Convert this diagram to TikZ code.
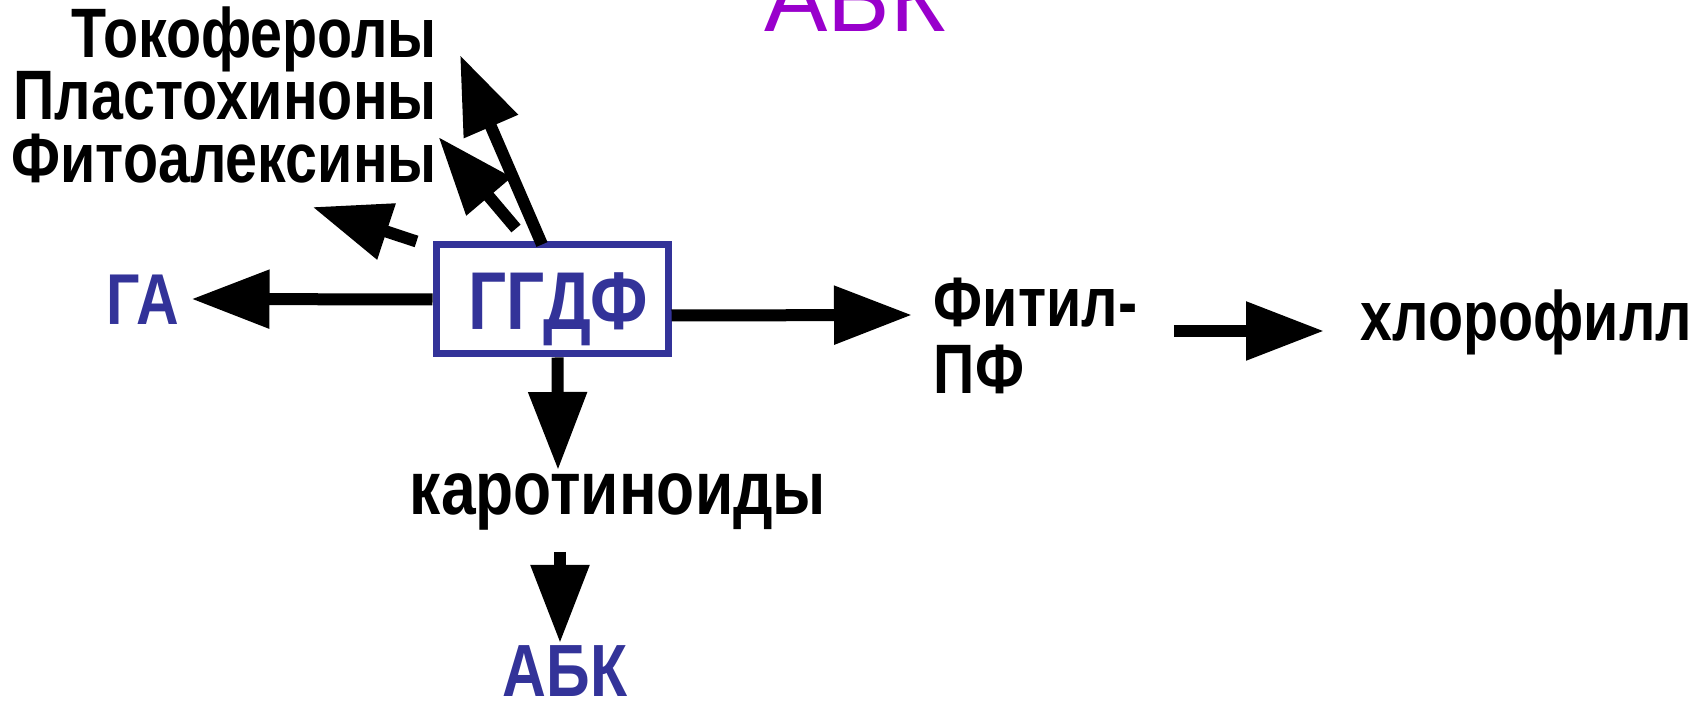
\documentclass[tikz,border=0pt]{standalone}
\usepackage{fontspec}
\usepackage{xcolor}
\usepackage{tikz}
\usetikzlibrary{arrows.meta, positioning, calc}
\setmainfont{Liberation Sans}
\newfontfamily\narrow{Liberation Sans}[FakeStretch=0.82]
\definecolor{ggdfblue}{RGB}{51,51,153}
\definecolor{abkpurple}{RGB}{153,0,204}

\begin{document}
\begin{tikzpicture}[
  x=0.25pt, y=-0.25pt,
  txt/.style={font=\narrow\bfseries\fontsize{#1}{#1}\selectfont, inner sep=0pt},
  txt/.default=17.5,
  gbox/.style={rectangle, draw=ggdfblue, line width=1.75pt, text=ggdfblue,
               minimum width=58pt, minimum height=27.25pt, inner sep=2pt,
               text height=16pt, text depth=0.75pt},
  arr/.style={line width=3pt, -{Triangle[length=19.5pt, width=14pt]}}
]
\useasboundingbox (0,0) rectangle (1702,702);
\clip (0,0) rectangle (1702,702);

\node[txt=20.5, gbox] (ggdf) at (552,299.5) {\hspace{3pt}ГГДФ};
\node[txt=18, ggdfblue, anchor=base] (ga) at (142.5,325) {ГА};
\node[txt, anchor=base east] (tokoferoly) at (437.5,58) {Токоферолы};
\node[txt, below=15.5pt of tokoferoly.base east, anchor=base east] (plastohinony) {Пластохиноны};
\node[txt, below=15.75pt of plastohinony.base east, anchor=base east] (fitoaleksiny) {Фитоалексины};
\node[txt, anchor=base west] (fitil) at (933,327) {Фитил-};
\node[txt, below=16.75pt of fitil.base west, anchor=base west] (pf) {ПФ};
\node[txt, anchor=base west] (hlorofill) at (1360,341) {хлорофилл};
\node[txt=19, anchor=base] (karotinoidy) at (618,515) {каротиноиды};
\node[txt=18.5, ggdfblue, anchor=base] (abk) at (565,697) {АБК};
\node[font=\fontsize{23.75}{28}\selectfont, abkpurple, inner sep=0pt, anchor=base] (abktop) at (855,32) {АБК};

\draw[arr] (ggdf.west) -- ($(ga.base east)+(12,-26)$);
\draw[arr] ($(ggdf.east)+(0,16)$) -- ($(fitil.base west)+(-21,-12)$);
\draw[arr] ($(fitil.base east)+(36,4)$) -- ($(hlorofill.base west)+(-36,-10)$);
\draw[arr] ($(ggdf.south)+(5.5,0)$) -- ($(karotinoidy.base)+(-60,-45)$);
\draw[arr] ($(karotinoidy.base)+(-58,37)$) -- ($(abk.base)+(-5,-54)$);
\draw[arr] ($(ggdf.north)+(-10,3)$) -- ($(tokoferoly.base east)+(22.5,-3)$);
\draw[arr] ($(ggdf.north)+(-36,-13)$) -- ($(plastohinony.base east)+(1,17)$);
\draw[arr] ($(ggdf.north west)+(-16,0)$) -- ($(fitoaleksiny.base east)+(-125,24)$);
\end{tikzpicture}
\end{document}
